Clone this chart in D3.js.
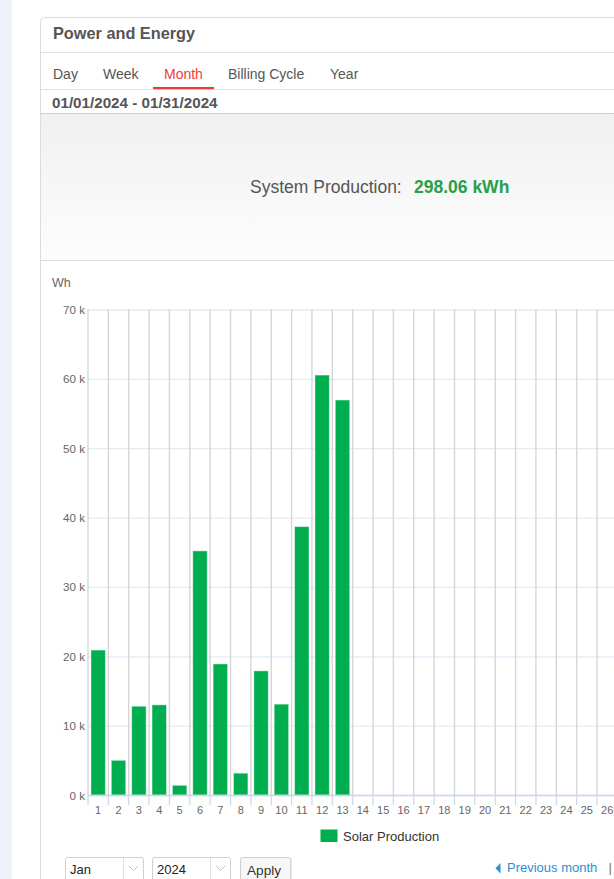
<!DOCTYPE html>
<html><head><meta charset="utf-8">
<script src="https://cdn.jsdelivr.net/npm/d3@7"></script>
<style>
html,body{margin:0;padding:0;background:#fff;overflow:hidden;}
svg{display:block;font-family:"Liberation Sans",Arial,Helvetica,sans-serif;}
</style></head>
<body>
<svg id="c" width="614" height="879"></svg>
<script>
// ---- data ----
const days = d3.range(1, 32).map(String);
const production = [20900, 5000, 12800, 13000, 1400, 35200, 18900, 3150, 17900, 13100, 38700, 60550, 56950];
const yTicks = [0, 10000, 20000, 30000, 40000, 50000, 60000, 70000];
const tabs = ["Day", "Week", "Month", "Billing Cycle", "Year"];
const activeTab = "Month";
const dateRange = "01/01/2024 - 01/31/2024";
const totalLabel = "System Production:";
const totalValue = "298.06 kWh";
const seriesName = "Solar Production";
const unitLabel = "Wh";

const svg = d3.select("#c");
const W = 614, H = 879;

// page background strip
svg.append("rect").attr("x",0).attr("y",0).attr("width",12).attr("height",H).attr("fill","#eef2f8");

// card
svg.append("path")
  .attr("d","M40.5,879 L40.5,21.5 Q40.5,17.5 44.5,17.5 L620,17.5")
  .attr("fill","#fff").attr("stroke","#dcdcdc");
svg.append("text").attr("x",53).attr("y",39).attr("font-size",16.3).attr("font-weight","bold")
  .attr("fill","#555").text("Power and Energy");
svg.append("line").attr("x1",41).attr("x2",W).attr("y1",52.5).attr("y2",52.5).attr("stroke","#e3e3e3");

// tabs
const tabX = [53,103,164,228,330];
tabs.forEach((t,i)=>{
  svg.append("text").attr("x",tabX[i]).attr("y",79).attr("font-size",14)
    .attr("fill", t===activeTab ? "#f03a3a" : "#555").text(t);
});
svg.append("line").attr("x1",41).attr("x2",W).attr("y1",89.5).attr("y2",89.5).attr("stroke","#e3e3e3");
svg.append("rect").attr("x",153).attr("y",87).attr("width",61).attr("height",2.2).attr("fill","#f03a3a");

svg.append("text").attr("x",52).attr("y",108).attr("font-size",15.2).attr("font-weight","bold")
  .attr("fill","#555").text(dateRange);

// summary panel
const defs = svg.append("defs");
const g = defs.append("linearGradient").attr("id","pg").attr("x1",0).attr("x2",0).attr("y1",0).attr("y2",1);
g.append("stop").attr("offset","0").attr("stop-color","#f0f0f0");
g.append("stop").attr("offset","1").attr("stop-color","#fdfdfd");
svg.append("rect").attr("x",41).attr("y",113).attr("width",W-41).attr("height",147).attr("fill","url(#pg)");
svg.append("line").attr("x1",41).attr("x2",W).attr("y1",113.5).attr("y2",113.5).attr("stroke","#cfcfcf");
svg.append("line").attr("x1",41).attr("x2",W).attr("y1",260.5).attr("y2",260.5).attr("stroke","#dcdcdc");
svg.append("text").attr("x",250).attr("y",193).attr("font-size",17.5).attr("fill","#555").text(totalLabel);
svg.append("text").attr("x",414).attr("y",193).attr("font-size",17.5).attr("font-weight","bold")
  .attr("fill","#27a04a").text(totalValue);

// ---- chart ----
const x0 = 88, step = 20.36;
const x = d3.scaleBand().domain(days).range([x0, x0 + step*days.length])
  .paddingInner(0.29).paddingOuter(0.145);
const y = d3.scaleLinear().domain([0, 70000]).range([795, 309.5]);
const plotRight = x0 + step*days.length;

svg.append("text").attr("x",52).attr("y",287).attr("font-size",12.5).attr("fill","#666").text(unitLabel);

// horizontal grid
const yg = svg.append("g").attr("transform",`translate(${x0},0)`)
  .call(d3.axisLeft(y).tickValues(yTicks).tickSize(-(plotRight-x0)).tickFormat(""));
yg.select(".domain").remove();
yg.selectAll(".tick line").attr("stroke","#e3ebf4").attr("stroke-width",1.3);

// vertical grid at category boundaries
const slotStart = d => x(d) - (x.step()-x.bandwidth())/2;
const bounds = days.map(slotStart).concat([slotStart(days[days.length-1]) + x.step()]);
svg.append("g").selectAll("line").data(bounds).join("line")
  .attr("x1",d=>d).attr("x2",d=>d).attr("y1",y(70000)).attr("y2",y(0))
  .attr("stroke","#d6d6d6").attr("stroke-width",1.4);

// bars
const barData = production.map((v,i)=>({day:days[i], v}));
svg.append("g").selectAll("rect").data(barData).join("rect")
  .attr("x",d=>x(d.day)).attr("width",x.bandwidth())
  .attr("y",d=>y(d.v)).attr("height",d=>y(0)-y(d.v))
  .attr("fill","#00ae4f").attr("stroke","rgba(255,255,255,0.45)").attr("stroke-width",1);

// x axis line and ticks
svg.append("line").attr("x1",x0).attr("x2",plotRight).attr("y1",y(0)+0.5).attr("y2",y(0)+0.5)
  .attr("stroke","#ccd6eb").attr("stroke-width",1.3);
svg.append("g").selectAll("line").data(bounds).join("line")
  .attr("x1",d=>d).attr("x2",d=>d).attr("y1",y(0)).attr("y2",y(0)+10)
  .attr("stroke","#ccd6eb").attr("stroke-width",1.2);
const xa = svg.append("g").attr("transform",`translate(0,${y(0)+9})`)
  .call(d3.axisBottom(x).tickSize(0).tickPadding(2));
xa.select(".domain").remove();
xa.selectAll("text").attr("font-size",11).attr("fill","#666").attr("font-family",null);

// y axis labels
const ya = svg.append("g").attr("transform",`translate(${x0-2},0)`)
  .call(d3.axisLeft(y).tickValues(yTicks).tickSize(0).tickPadding(1).tickFormat(d=>(d/1000)+" k"));
ya.select(".domain").remove();
ya.selectAll("text").attr("font-size",11.6).attr("fill","#666").attr("font-family",null).attr("dy","0.35em");

// legend
svg.append("rect").attr("x",320.5).attr("y",829.5).attr("width",17).attr("height",12.5).attr("fill","#00ae4f");
svg.append("text").attr("x",343).attr("y",841).attr("font-size",13).attr("fill","#333").text(seriesName);

// bottom controls
function selectBox(x1, w, label){
  svg.append("rect").attr("x",x1+0.5).attr("y",857.5).attr("width",w).attr("height",30)
    .attr("fill","#fff").attr("stroke","#d0d0d0").attr("rx",2);
  svg.append("line").attr("x1",x1+w-19.5).attr("x2",x1+w-19.5).attr("y1",858).attr("y2",879).attr("stroke","#e0e0e0");
  svg.append("path").attr("d",`M${x1+w-14},866 l4.5,4.5 l4.5,-4.5`).attr("fill","none").attr("stroke","#bbb").attr("stroke-width",0.9);
  svg.append("text").attr("x",x1+5).attr("y",874).attr("font-size",13).attr("fill","#222").text(label);
}
selectBox(65, 78, "Jan");
selectBox(152, 78, "2024");
svg.append("rect").attr("x",240.5).attr("y",857.5).attr("width",50).attr("height",30).attr("rx",2)
  .attr("fill","#f7f7f7").attr("stroke","#cfcfcf");
svg.append("rect").attr("x",290.5).attr("y",858).attr("width",1.5).attr("height",30).attr("fill","#e6e6e6");
svg.append("text").attr("x",247).attr("y",874.5).attr("font-size",13.6).attr("fill","#333").text("Apply");

svg.append("path").attr("d","M500.5,863 L500.5,873.5 L495.5,868.2 Z").attr("fill","#2b8fd6");
svg.append("text").attr("x",507).attr("y",872).attr("font-size",13).attr("fill","#2b8fd6").text("Previous month");
svg.append("rect").attr("x",609.5).attr("y",863).attr("width",1.6).attr("height",12).attr("fill","#999");
</script>
</body></html>
